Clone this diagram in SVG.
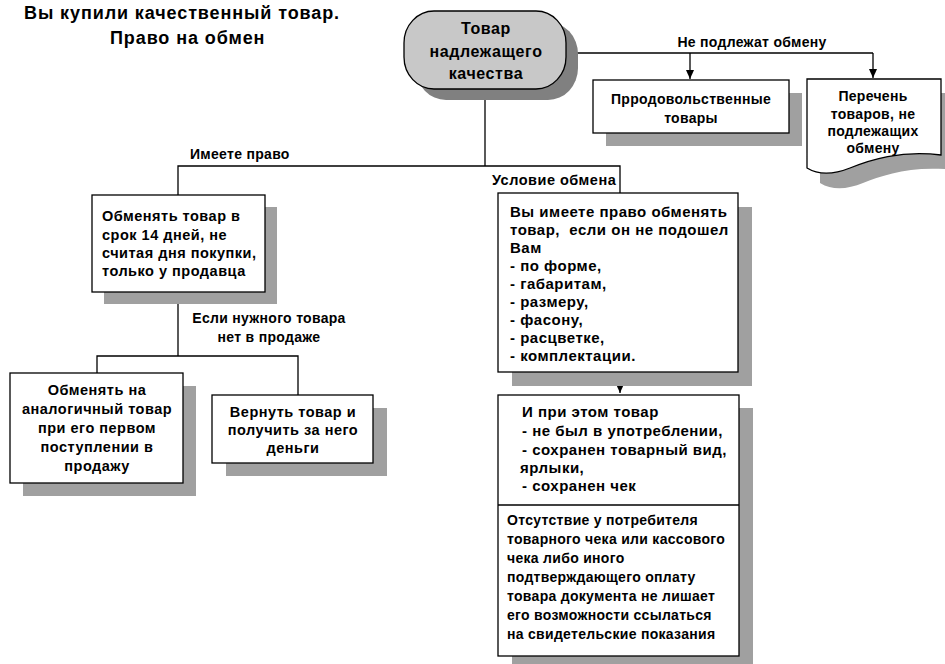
<svg xmlns="http://www.w3.org/2000/svg" width="945" height="664" viewBox="0 0 945 664">
<defs>
<style>
text{font-family:"Liberation Sans",Arial,sans-serif;font-weight:bold;fill:#000}
.t{font-size:14px;letter-spacing:0.3px}
.m{font-size:14.5px;letter-spacing:0.5px}
.l{font-size:15px;letter-spacing:0.5px}
.c{text-anchor:middle}
.box{fill:#fff;stroke:#000;stroke-width:1.3}
.sh{fill:#a0a0a0}
.ln{fill:none;stroke:#000;stroke-width:1.3}
</style>
<marker id="ad" markerWidth="8" markerHeight="9" refX="4" refY="9" markerUnits="userSpaceOnUse" viewBox="0 0 8 9">
<path d="M0,0 L8,0 L4,9 Z" fill="#000"/>
</marker>
</defs>
<rect width="945" height="664" fill="#fff"/>

<g id="title">
<text x="24" y="19" style="font-size:18px;letter-spacing:0.9px">Вы купили качественный товар.</text>
<text x="110" y="44" style="font-size:18px;letter-spacing:0.9px">Право на обмен</text>
</g>

<g id="connectors">
<path class="ln" d="M566,53 H873"/>
<path class="ln" d="M690,53 V79" marker-end="url(#ad)"/>
<path class="ln" d="M873,53 V78" marker-end="url(#ad)"/>
<path class="ln" d="M485,89 V166"/>
<path class="ln" d="M178,195 V166 H620 V193"/>
<path class="ln" d="M178,292 V356"/>
<path class="ln" d="M97,373 V356 H298 V395"/>
<path class="ln" d="M620,372 V393" marker-end="url(#ad)"/>
<text class="t" x="752" y="47" text-anchor="middle">Не подлежат обмену</text>
<text class="t" x="190" y="159">Имеете право</text>
<text class="m" x="492" y="185">Условие обмена</text>
<text class="t c" x="269" y="323">Если нужного товара</text>
<text class="t c" x="269" y="342">нет в продаже</text>
</g>

<g id="node-top">
<rect x="416" y="22" width="162" height="78" rx="30" ry="32" fill="#808080"/>
<rect x="404" y="11" width="162" height="78" rx="30" ry="32" fill="#c8c8c8" stroke="#000" stroke-width="1.3"/>
<text class="c" x="486" y="34" style="font-size:16px;letter-spacing:0.6px">Товар</text>
<text class="c" x="486" y="57" style="font-size:16px;letter-spacing:0.6px">надлежащего</text>
<text class="c" x="486" y="79" style="font-size:16px;letter-spacing:0.6px">качества</text>
</g>

<g id="node-food">
<rect class="sh" x="606" y="93" width="196" height="53"/>
<rect class="box" x="593" y="80" width="196" height="53"/>
<text class="t c" x="691" y="104">Прродовольственные</text>
<text class="t c" x="691" y="123">товары</text>
</g>

<g id="node-list">
<path class="sh" d="M820,93 H954 V170 C913,165 883,175 863,183 C848,189 833,191 820,183 Z"/>
<path class="box" d="M807,79 H941 V155 C900,150 870,160 850,168 C835,174 820,176 807,168 Z"/>
<text class="t c" x="873" y="101">Перечень</text>
<text class="t c" x="873" y="119">товаров, не</text>
<text class="t c" x="873" y="136">подлежащих</text>
<text class="t c" x="873" y="153">обмену</text>
</g>

<g id="node-14days">
<rect class="sh" x="104" y="207" width="173" height="97"/>
<rect class="box" x="92" y="195" width="173" height="97"/>
<text class="m" x="102" y="221">Обменять товар в</text>
<text class="m" x="102" y="240">срок 14 дней, не</text>
<text class="m" x="102" y="258">считая дня покупки,</text>
<text class="m" x="102" y="276">только у продавца</text>
</g>

<g id="node-analog">
<rect class="sh" x="23" y="386" width="173" height="110"/>
<rect class="box" x="10" y="373" width="173" height="110"/>
<text class="m c" x="97" y="395">Обменять на</text>
<text class="m c" x="97" y="414">аналогичный товар</text>
<text class="m c" x="97" y="433">при его первом</text>
<text class="m c" x="97" y="452">поступлении в</text>
<text class="m c" x="97" y="471">продажу</text>
</g>

<g id="node-refund">
<rect class="sh" x="226" y="408" width="161" height="68"/>
<rect class="box" x="212" y="395" width="161" height="68"/>
<text class="m c" x="293" y="417">Вернуть товар и</text>
<text class="m c" x="293" y="435">получить за него</text>
<text class="m c" x="293" y="453">деньги</text>
</g>

<g id="node-condition">
<rect class="sh" x="512" y="207" width="240" height="179"/>
<rect class="box" x="498" y="193" width="240" height="179"/>
<text class="l" x="510" y="217">Вы имеете право обменять</text>
<text class="l" x="510" y="235" xml:space="preserve">товар,  если он не подошел</text>
<text class="l" x="510" y="253">Вам</text>
<text class="l" x="510" y="271">- по форме,</text>
<text class="l" x="510" y="289">- габаритам,</text>
<text class="l" x="510" y="307">- размеру,</text>
<text class="l" x="510" y="325">- фасону,</text>
<text class="l" x="510" y="343">- расцветке,</text>
<text class="l" x="510" y="361">- комплектации.</text>
</g>

<g id="node-also">
<rect class="sh" x="512" y="408" width="241" height="270"/>
<rect class="box" x="498" y="395" width="241" height="261"/>
<path class="ln" d="M498,505 H739"/>
<text class="l" x="522" y="417">И при этом товар</text>
<text class="l" x="522" y="436">- не был в употреблении,</text>
<text class="l" x="522" y="455">- сохранен товарный вид,</text>
<text class="l" x="520" y="473">ярлыки,</text>
<text class="l" x="522" y="491">- сохранен чек</text>
<text class="t" x="507" y="525">Отсутствие у потребителя</text>
<text class="t" x="507" y="544">товарного чека или кассового</text>
<text class="t" x="507" y="563">чека либо иного</text>
<text class="t" x="507" y="582">подтверждающего оплату</text>
<text class="t" x="507" y="601">товара документа не лишает</text>
<text class="t" x="507" y="620">его возможности ссылаться</text>
<text class="t" x="507" y="639">на свидетельские показания</text>
</g>
</svg>
